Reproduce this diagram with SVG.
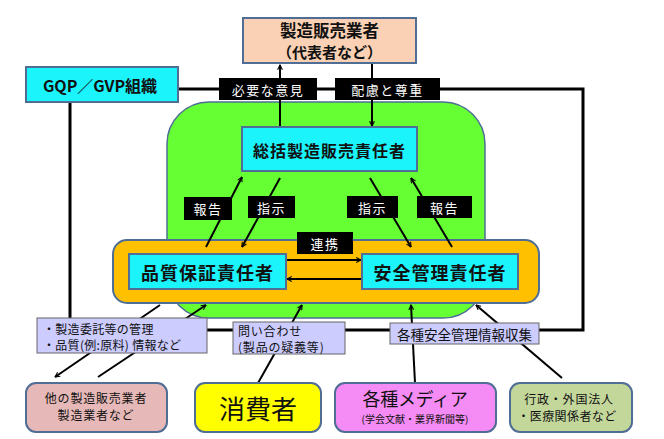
<svg xmlns="http://www.w3.org/2000/svg" width="664" height="439" viewBox="0 0 664 439">
<defs>
<marker id="ah" viewBox="0 0 10 10" refX="9" refY="5" markerWidth="6" markerHeight="6" orient="auto" markerUnits="userSpaceOnUse">
<path d="M1,1 L9,5 L1,9" fill="none" stroke="#000" stroke-width="1.8"/>
</marker>
<style>
text{font-family:"Noto Sans CJK JP","Noto Sans CJK SC",sans-serif;dominant-baseline:central;text-anchor:middle;fill:#111}
.b{font-weight:bold}
.node{stroke:#4F6D95;stroke-width:2}
.cyan{fill:#1CF4FC}
.blk{fill:#000}
.wt{fill:#fff;font-size:13px;letter-spacing:1.5px}
.lav{fill:#CCCCFF;stroke:#666;stroke-width:1}
.arr{stroke:#000;stroke-width:2;fill:none;marker-end:url(#ah)}
.frame{stroke:#000;stroke-width:3;fill:none}
.st{text-anchor:start}
</style>
</defs>
<rect width="664" height="439" fill="#fff"/>

<g id="frame-lines">
<path class="frame" d="M178,89 H583 V330 H70 V102"/>
</g>

<g id="green-area">
<rect x="167" y="102" width="318" height="216" rx="42" fill="#66FF33" stroke="#4F6D95" stroke-width="1.5"/>
</g>
<g id="orange-area">
<rect x="113" y="240" width="426" height="63" rx="14" fill="#FFC000" class="node"/>
</g>

<g id="connectors">
<line class="arr" x1="280" y1="127" x2="280" y2="65"/>
<line class="arr" x1="372" y1="64" x2="372" y2="126"/>
<line class="arr" x1="206" y1="247" x2="242" y2="177"/>
<line class="arr" x1="280" y1="178" x2="242" y2="247"/>
<line class="arr" x1="370" y1="178" x2="411" y2="247"/>
<line class="arr" x1="452" y1="247" x2="411" y2="178"/>
<line class="arr" x1="286" y1="260" x2="361" y2="260"/>
<line class="arr" x1="362" y1="279" x2="287" y2="279"/>
<line class="arr" x1="160" y1="305" x2="55" y2="377"/>
<line class="arr" x1="98" y1="377" x2="206" y2="305"/>
<line class="arr" x1="258" y1="383" x2="302" y2="305"/>
<line class="arr" x1="415" y1="383" x2="411" y2="305"/>
<line class="arr" x1="562" y1="378" x2="476" y2="305"/>
</g>

<g id="maker">
<rect x="243" y="18" width="173" height="45" fill="#FAD1B4" class="node"/>
<text x="329.5" y="30" class="b" font-size="16.5">製造販売業者</text>
<text x="329.5" y="51" class="b" font-size="15">（代表者など）</text>
</g>

<g id="gqp">
<rect x="26" y="67" width="152" height="35" class="node cyan"/>
<text x="100" y="85" class="b" font-size="16">GQP／GVP組織</text>
</g>

<g id="label-iken">
<rect x="219" y="78" width="98" height="22" class="blk"/>
<text x="268" y="89" class="wt">必要な意見</text>
</g>
<g id="label-hairyo">
<rect x="335" y="78" width="105" height="22" class="blk"/>
<text x="387.5" y="89" class="wt">配慮と尊重</text>
</g>

<g id="sokatsu">
<rect x="242" y="127" width="175" height="44" class="node cyan"/>
<text x="329.5" y="150" class="b" font-size="16" letter-spacing="1">総括製造販売責任者</text>
</g>

<g id="label-hokoku1">
<rect x="184" y="197" width="48" height="23" class="blk"/>
<text x="208" y="208" class="wt">報告</text>
</g>
<g id="label-shiji1">
<rect x="248" y="196" width="47" height="22" class="blk"/>
<text x="271.5" y="207" class="wt">指示</text>
</g>
<g id="label-shiji2">
<rect x="347" y="196" width="51" height="22" class="blk"/>
<text x="372.5" y="207" class="wt">指示</text>
</g>
<g id="label-hokoku2">
<rect x="417" y="196" width="55" height="22" class="blk"/>
<text x="444.5" y="207" class="wt">報告</text>
</g>

<g id="label-renkei">
<rect x="297" y="232" width="56" height="22" class="blk"/>
<text x="325" y="243" class="wt">連携</text>
</g>

<g id="hinshitsu">
<rect x="129" y="254" width="157" height="35" class="node cyan"/>
<text x="207.5" y="272" class="b" font-size="18" letter-spacing="1">品質保証責任者</text>
</g>
<g id="anzen">
<rect x="362" y="254" width="156" height="35" class="node cyan"/>
<text x="440" y="272" class="b" font-size="18" letter-spacing="1">安全管理責任者</text>
</g>

<g id="label-itaku">
<rect x="37" y="318" width="170" height="35" class="lav"/>
<text x="43" y="328" font-size="12" class="st" letter-spacing="0.3">・製造委託等の管理</text>
<text x="43" y="344" font-size="12" class="st" letter-spacing="0.3">・品質(例:原料) 情報など</text>
</g>
<g id="label-toiawase">
<rect x="233" y="322" width="112" height="32" class="lav"/>
<text x="238" y="330" font-size="12" class="st" letter-spacing="0.8">問い合わせ</text>
<text x="238" y="346" font-size="12" class="st" letter-spacing="0.8">(製品の疑義等)</text>
</g>
<g id="label-shushu">
<rect x="390" y="323" width="149" height="21" class="lav"/>
<text x="464.5" y="333.5" font-size="13.5">各種安全管理情報収集</text>
</g>

<g id="other-makers">
<rect x="26" y="383" width="141" height="49" rx="10" fill="#E6B8B7" class="node"/>
<text x="96" y="397" font-size="12" fill="#333" letter-spacing="0.8">他の製造販売業者</text>
<text x="96" y="414" font-size="12" fill="#333" letter-spacing="0.8">製造業者など</text>
</g>
<g id="consumer">
<rect x="195" y="383" width="126" height="49" rx="10" fill="#FFFF00" class="node"/>
<text x="258" y="407" font-size="26">消費者</text>
</g>
<g id="media">
<rect x="335" y="383" width="161" height="49" rx="10" fill="#F58CF5" class="node"/>
<text x="415" y="398" font-size="18" letter-spacing="-0.3">各種メディア</text>
<text x="415" y="418" font-size="10">(学会文献・業界新聞等)</text>
</g>
<g id="gyosei">
<rect x="510" y="383" width="122" height="49" rx="10" fill="#C4D79B" class="node"/>
<text x="569" y="398" font-size="12" fill="#333" letter-spacing="0.8">行政・外国法人</text>
<text x="567" y="415" font-size="12" fill="#333" letter-spacing="0.4">・医療関係者など</text>
</g>
</svg>
